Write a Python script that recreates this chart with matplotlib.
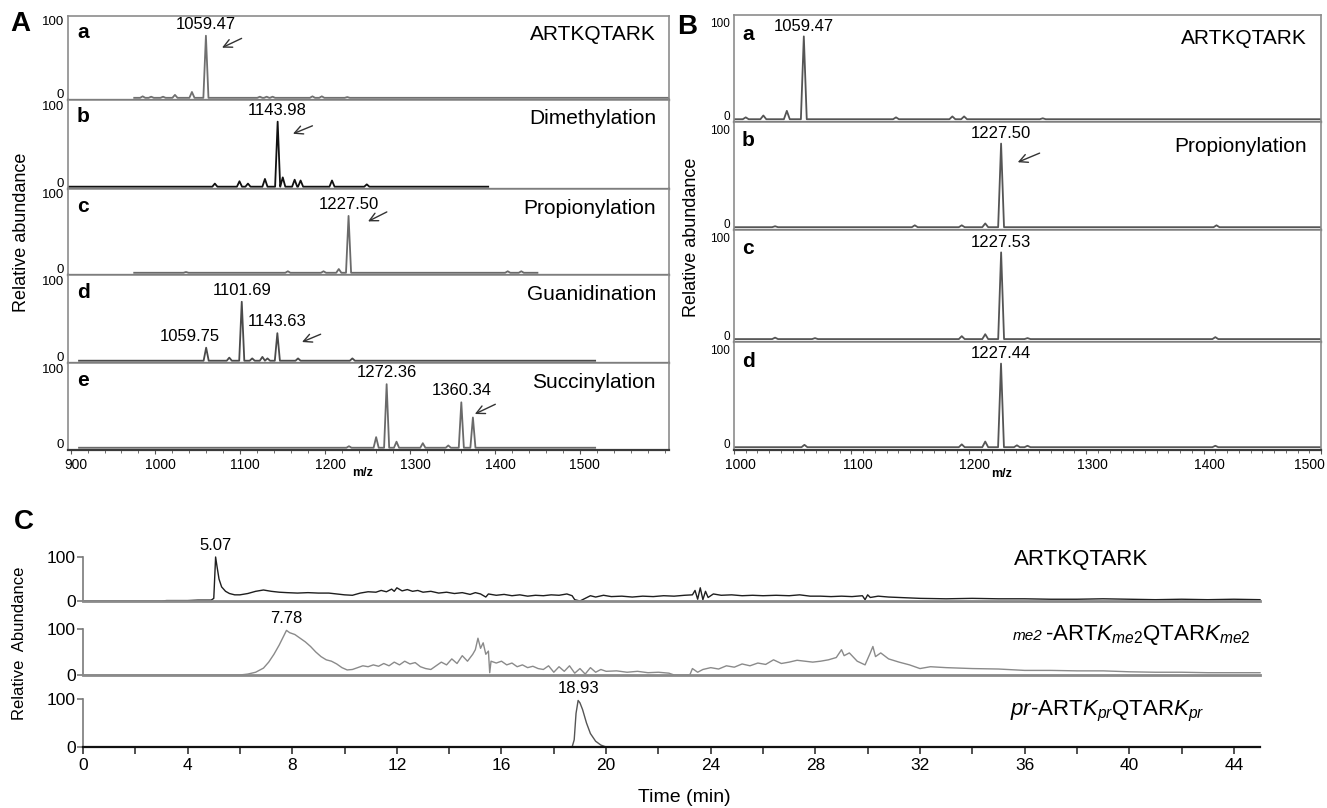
import matplotlib
matplotlib.use("Agg")
import matplotlib.pyplot as plt
from matplotlib.transforms import ScaledTranslation

plt.rcParams['font.family'] = ['Liberation Sans', 'DejaVu Sans']
plt.rcParams['mathtext.fontset'] = 'custom'
plt.rcParams['mathtext.rm'] = 'Liberation Sans'
plt.rcParams['mathtext.it'] = 'Liberation Sans:italic'

# ---- panel A: derivatisation of ARTKQTARK (m/z spectra) ----
a_letters = ["a", "b", "c", "d", "e"]
a_names = ["ARTKQTARK", "Dimethylation", "Propionylation", "Guanidination", "Succinylation"]
a_ranges = [(975, 1605), (892, 1392), (975, 1450), (910, 1518), (910, 1518)]
a_mz = [
    [985, 995, 1009, 1023, 1043, 1059.47, 1123, 1131, 1138, 1185, 1196, 1226],
    [1070, 1099, 1109, 1129, 1143.98, 1150, 1164, 1171, 1208, 1249],
    [1036, 1156, 1198, 1216, 1227.50, 1415, 1431],
    [1059.75, 1087, 1101.69, 1114, 1126, 1132, 1143.63, 1168, 1232],
    [1228, 1260, 1272.36, 1284, 1315, 1345, 1360.34, 1374],
]
a_int = [
    [2, 1.5, 1.5, 4, 8, 85, 1.5, 1.5, 1.5, 2, 2, 1],
    [4, 7, 4, 10, 84, 12, 9, 8, 8, 3],
    [1, 2, 2, 5, 76, 2, 2],
    [17, 4, 77, 3, 5, 3, 36, 3, 3],
    [2, 14, 84, 8, 6, 3, 60, 40],
]
a_peak_labels = [[1059.47], [1143.98], [1227.50], [1059.75, 1101.69, 1143.63], [1272.36, 1360.34]]
a_arrow_peaks = [1059.47, 1143.98, 1227.50, 1143.63, 1360.34]

# ---- panel B: propionylation repeats ----
b_letters = ["a", "b", "c", "d"]
b_names = ["ARTKQTARK", "Propionylation", "", ""]
b_mz = [
    [1010, 1025, 1045, 1059.47, 1138, 1186, 1196, 1263],
    [1035, 1154, 1194, 1214, 1227.50, 1411],
    [1035, 1069, 1194, 1214, 1227.53, 1250, 1410],
    [1060, 1194, 1214, 1227.44, 1241, 1250, 1410],
]
b_int = [
    [2, 4, 9, 89, 2, 3, 3, 1],
    [1, 2, 2, 4, 89, 2],
    [1.5, 1, 3, 5, 89, 1, 2],
    [2.5, 3, 6, 89, 2, 1.5, 1.5],
]
b_peak_labels = [[1059.47], [1227.50], [1227.53], [1227.44]]

# ---- panel C: chromatograms ----
c1_t = [0, 3.0, 3.2, 4.0, 4.4, 4.9, 5.0, 5.07, 5.12, 5.2, 5.3, 5.45, 5.6, 5.8, 6.0, 6.3, 6.6, 6.9,
        7.2, 7.5, 7.8, 8.2, 8.6, 9.0, 9.4, 9.7, 10.0, 10.3, 10.6, 10.9, 11.2, 11.4, 11.6, 11.8,
        11.9, 12.0, 12.2, 12.4, 12.6, 12.8, 13.0, 13.3, 13.6, 13.9, 14.2, 14.5, 14.8, 15.0, 15.2,
        15.4, 15.5, 15.8, 16.1, 16.4, 16.7, 17.0, 17.3, 17.6, 17.9, 18.2, 18.5, 18.7, 18.8, 19.0,
        19.2, 19.4, 19.6, 19.9, 20.2, 20.6, 21.0, 21.4, 21.8, 22.2, 22.6, 23.0, 23.3, 23.4, 23.5,
        23.6, 23.7, 23.8, 23.9, 24.1, 24.4, 24.8, 25.2, 25.6, 26.0, 26.5, 27.0, 27.4, 27.8, 28.2,
        28.6, 29.0, 29.4, 29.8, 29.9, 30.0, 30.1, 30.4, 30.8, 31.2, 31.6, 32.0, 33, 34, 35, 36,
        37, 38, 39, 40, 41, 42, 43, 44, 45]
c1_y = [0, 0, 1, 1, 2, 2, 6, 100, 80, 50, 32, 22, 17, 14, 14, 17, 22, 25,
        22, 20, 19, 18, 19, 18, 18, 16, 14, 13, 18, 21, 20, 24, 21, 27,
        22, 30, 23, 26, 22, 24, 20, 22, 18, 20, 17, 19, 15, 19, 16,
        9, 16, 13, 15, 12, 14, 11, 13, 12, 14, 13, 16, 12, 3, 0,
        6, 12, 9, 13, 10, 11, 9, 11, 10, 12, 11, 13, 14, 24, 4,
        30, 3, 22, 8, 16, 13, 14, 12, 13, 12, 13, 12, 14, 11, 11,
        10, 11, 10, 12, 3, 14, 8, 11, 9, 8, 7, 6, 5, 6, 5, 5,
        4, 4, 5, 4, 3, 4, 3, 4, 3]
c2_t = [0, 6.0, 6.3, 6.6, 6.9, 7.1, 7.3, 7.5, 7.65, 7.78, 7.9, 8.1, 8.3, 8.5, 8.7, 8.9, 9.1, 9.3,
        9.5, 9.7, 9.9, 10.1, 10.3, 10.5, 10.7, 10.9, 11.1, 11.3, 11.5, 11.7, 11.9, 12.1, 12.3,
        12.5, 12.7, 12.9, 13.1, 13.3, 13.5, 13.7, 13.9, 14.1, 14.3, 14.5, 14.7, 14.9, 15.0, 15.1,
        15.2, 15.3, 15.4, 15.5, 15.55, 15.6, 15.8, 16.0, 16.2, 16.4, 16.6, 16.8, 17.0, 17.2,
        17.4, 17.6, 17.8, 18.0, 18.2, 18.4, 18.6, 18.8, 19.0, 19.2, 19.4, 19.6, 19.8, 20.0, 20.4,
        20.8, 21.2, 21.6, 22.0, 22.4, 22.6, 23.2, 23.3, 23.5, 23.7, 24.0, 24.3, 24.6, 24.9, 25.2,
        25.5, 25.8, 26.1, 26.4, 26.7, 27.0, 27.3, 27.6, 27.9, 28.2, 28.5, 28.8, 29.0, 29.1, 29.3,
        29.6, 29.9, 30.1, 30.2, 30.3, 30.5, 30.8, 31.2, 31.6, 32.0, 32.4, 33, 33.5, 34, 35, 36,
        37, 38, 39, 40, 41, 42, 43, 44, 45]
c2_y = [0, 0, 2, 6, 15, 28, 45, 65, 82, 97, 92, 88, 80, 72, 62, 50, 40, 33,
        30, 24, 16, 11, 12, 16, 20, 18, 22, 19, 25, 20, 28, 22, 30,
        24, 27, 18, 14, 12, 20, 28, 22, 35, 25, 42, 30, 45, 55, 80,
        58, 70, 45, 52, 5, 30, 26, 30, 22, 26, 18, 22, 16, 19,
        14, 12, 20, 6, 18, 8, 20, 4, 14, 2, 16, 6, 12, 8, 9,
        6, 8, 5, 6, 4, 0, 0, 14, 6, 12, 16, 13, 20, 17, 24,
        20, 26, 23, 33, 25, 28, 32, 30, 28, 30, 33, 38, 55, 42, 48,
        30, 22, 48, 62, 40, 48, 35, 28, 22, 14, 18, 16, 15, 14, 13, 10,
        10, 9, 9, 7, 6, 6, 5, 5, 5]
c3_t = [0, 18.7, 18.78, 18.85, 18.93, 19.0, 19.1, 19.25, 19.4, 19.6, 19.8, 20.0, 45]
c3_y = [0, 0, 15, 70, 97, 92, 78, 50, 28, 12, 4, 0, 0]
c_peak_times = [5.07, 7.78, 18.93]
c_ticks = [0, 4, 8, 12, 16, 20, 24, 28, 32, 36, 40, 44]

W, H = 1327, 808
fig = plt.figure(figsize=(W / 100, H / 100), dpi=100)


def px_axes(left, top, right, bottom):
    return fig.add_axes([left / W, 1 - bottom / H, (right - left) / W, (bottom - top) / H])


def px_text(x, y, s, **kw):
    return fig.text(x / W, 1 - y / H, s, **kw)


def stick_line(centers, heights, lo, hi, hw):
    xs, ys = [lo], [0]
    for c, h in sorted(zip(centers, heights)):
        xs += [c - hw, c, c + hw]
        ys += [0, h, 0]
    xs.append(hi)
    ys.append(0)
    return xs, ys


def shift(lab, dx_px, dy_px):
    lab.set_transform(lab.get_transform() +
                      ScaledTranslation(dx_px / 100, dy_px / 100, fig.dpi_scale_trans))


def box_style(ax, tick_fs):
    for sp in ax.spines.values():
        sp.set_color('#8c8c8c')
        sp.set_linewidth(1.2)
    ax.spines['bottom'].set_color('#3a3a3a')
    ax.spines['bottom'].set_linewidth(1.6)
    ax.set_ylim(-3, 112)
    ax.set_yticks([0, 100])
    ax.set_yticklabels(['0', '100'], fontsize=tick_fs)
    ax.tick_params(axis='y', length=0, pad=3)
    for lab in ax.get_yticklabels():
        shift(lab, 0, 4)


arrow_kw = dict(arrowstyle='->,head_length=0.6,head_width=0.3', color='#333333', lw=1.0)

# ---------------- panel A ----------------
a_tops = [16, 100, 189, 275, 363]
a_bots = [100, 189, 275, 363, 450]
a_colors = ['#707070', '#111111', '#6a6a6a', '#4a4a4a', '#6a6a6a']
a_arrows = [(45, 83, 16, 67), (44, 80, 15, 67), (48, 83, 20, 67), (54, 36, 26, 23), (43, 59, 13, 43)]
a_label_dx = {1059.75: -12}
for i in range(5):
    ax = px_axes(68, a_tops[i], 669, a_bots[i])
    lo, hi = a_ranges[i]
    xs, ys = stick_line(a_mz[i], a_int[i], lo, hi, 3)
    ax.plot(xs, ys, color=a_colors[i], lw=1.3)
    ax.set_xlim(897, 1605)
    box_style(ax, 9.5)
    for pk in a_peak_labels[i]:
        h = a_int[i][a_mz[i].index(pk)]
        ax.annotate(f"{pk:.2f}", xy=(pk, h), xytext=(a_label_dx.get(pk, 0), 3),
                    textcoords='offset points', ha='center', va='bottom', fontsize=12)
    pk = a_arrow_peaks[i]
    tdx, ty, hdx, hy = a_arrows[i]
    ax.annotate('', xy=(pk + hdx, hy), xytext=(pk + tdx, ty), arrowprops=arrow_kw)
    if i < 4:
        ax.set_xticks([])
    else:
        ax.set_xticks(range(900, 1501, 100))
        ax.set_xticks(range(900, 1601, 20), minor=True)
        ax.tick_params(axis='x', which='major', length=3, labelsize=10, pad=3, color='#555555')
        ax.tick_params(axis='x', which='minor', length=2, color='#555555')
        for lab in ax.get_xticklabels():
            shift(lab, 5, 0)
    px_text(77, a_tops[i] + 17, a_letters[i], fontsize=15, fontweight='bold', va='center')
    px_text(656, a_tops[i] + 19, a_names[i], fontsize=15, ha='right', va='center')

px_text(363, 473, 'm/z', fontsize=9, fontweight='bold', ha='center', va='center')
px_text(22, 232, 'Relative abundance', fontsize=13, rotation=90, ha='center', va='center')
px_text(10, 24, 'A', fontsize=20, fontweight='bold', va='center')

# ---------------- panel B ----------------
b_tops = [15, 122, 230, 342]
b_bots = [122, 230, 342, 450]
for i in range(4):
    ax = px_axes(734, b_tops[i], 1321, b_bots[i])
    xs, ys = stick_line(b_mz[i], b_int[i], 1000, 1500, 2.5)
    ax.plot(xs, ys, color='#555555', lw=1.3)
    ax.set_xlim(1000, 1500)
    box_style(ax, 8.5)
    for pk in b_peak_labels[i]:
        h = b_int[i][b_mz[i].index(pk)]
        ax.annotate(f"{pk:.2f}", xy=(pk, h), xytext=(0, 2),
                    textcoords='offset points', ha='center', va='bottom', fontsize=12)
    if i == 1:
        ax.annotate('', xy=(1227.50 + 12, 68), xytext=(1227.50 + 35, 80), arrowprops=arrow_kw)
    if i < 3:
        ax.set_xticks([])
    else:
        ax.set_xticks(range(1000, 1501, 100))
        ax.set_xticks(range(1000, 1501, 10), minor=True)
        ax.tick_params(axis='x', which='major', length=3, labelsize=10, pad=3, color='#555555')
        ax.tick_params(axis='x', which='minor', length=2, color='#555555')
        xlabs = ax.get_xticklabels()
        for lab in xlabs[:-1]:
            shift(lab, 6, 0)
        xlabs[-1].set_ha('right')
        shift(xlabs[-1], 4, 0)
    px_text(742, b_tops[i] + 19, b_letters[i], fontsize=15, fontweight='bold', va='center')
    if b_names[i]:
        px_text(1307, b_tops[i] + 24, b_names[i], fontsize=15, ha='right', va='center')

px_text(1002, 474, 'm/z', fontsize=9, fontweight='bold', ha='center', va='center')
px_text(692, 237, 'Relative abundance', fontsize=13, rotation=90, ha='center', va='center')
px_text(677, 27, 'B', fontsize=20, fontweight='bold', va='center')

# ---------------- panel C ----------------
c_tops = [557, 629, 699]
c_bots = [601, 675, 747]
c_series = [(c1_t, c1_y, '#1e1e1e'), (c2_t, c2_y, '#8a8a8a'), (c3_t, c3_y, '#555555')]
for i in range(3):
    ax = px_axes(83, c_tops[i], 1260, c_bots[i])
    t, y, col = c_series[i]
    ax.plot(t, y, color=col, lw=1.0, clip_on=False)
    ax.set_xlim(0, 45)
    ax.set_ylim(0, 100)
    ax.spines['top'].set_visible(False)
    ax.spines['right'].set_visible(False)
    ax.spines['left'].set_color('#7a7a7a')
    ax.spines['left'].set_linewidth(1.2)
    ax.set_yticks([0, 100])
    ax.tick_params(axis='y', length=4, width=1.2, color='#7a7a7a', labelsize=12.5, pad=1)
    pk = c_peak_times[i]
    ax.annotate(f"{pk:.2f}", xy=(pk, y[t.index(pk)]), xytext=(0, 3),
                textcoords='offset points', ha='center', va='bottom', fontsize=12)
    if i < 2:
        ax.spines['bottom'].set_color('#8a8a8a')
        ax.spines['bottom'].set_linewidth(2.0)
        ax.set_xticks([])
    else:
        ax.spines['bottom'].set_color('#111111')
        ax.spines['bottom'].set_linewidth(1.6)
        ax.set_xticks(c_ticks)
        ax.set_xticks(range(0, 45, 2), minor=True)
        ax.tick_params(axis='x', which='both', length=5, width=1.2, color='#333333')
        ax.tick_params(axis='x', which='major', labelsize=12.5, pad=3)
    ax.set_zorder(1)

px_text(1014, 565, 'ARTKQTARK', fontsize=16, va='baseline')
px_text(1013, 640, 'me2', fontsize=11, style='italic', va='baseline')
px_text(1045, 640, r'-ART$\mathit{K}_{\mathit{me2}}$QTAR$\mathit{K}_{\mathit{me2}}$', fontsize=16, va='baseline')
px_text(1010, 715, r'$\mathit{pr}$-ART$\mathit{K}_{\mathit{pr}}$QTAR$\mathit{K}_{\mathit{pr}}$', fontsize=16, va='baseline')
px_text(684, 797, 'Time (min)', fontsize=14, ha='center', va='center')
px_text(20, 643, 'Relative  Abundance', fontsize=12, rotation=90, ha='center', va='center')
px_text(14, 522, 'C', fontsize=20, fontweight='bold', va='center')

fig.savefig('out.png', dpi=100)
